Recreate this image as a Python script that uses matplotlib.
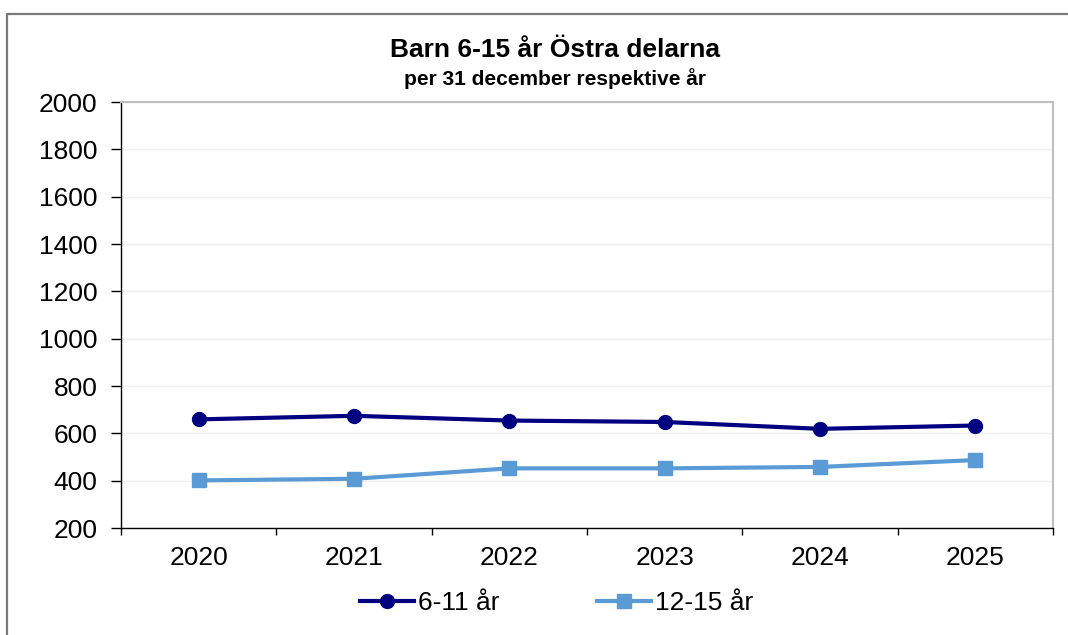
import numpy as np
import matplotlib.pyplot as plt
from matplotlib.lines import Line2D

plt.rcParams['font.family'] = ['Liberation Sans', 'DejaVu Sans']

years = ['2020', '2021', '2022', '2023', '2024', '2025']
barn_6_11 = [659, 674, 654, 648, 619, 633]
barn_12_15 = [401, 408, 452, 452, 458, 487]
yticks = np.arange(200, 2001, 200)

W, H = 1068, 635
fig = plt.figure(figsize=(W/100, H/100), dpi=100)
# outer frame (only top and left are visible in the reference)
fig.add_artist(Line2D([7/W, 7/W, 1.0], [0, 1 - 14/H, 1 - 14/H], transform=fig.transFigure,
                      color='#7a7a7a', linewidth=1.6))

ax = fig.add_axes([121/W, 1 - 528/H, (1053-121)/W, (528-102)/H])
x = np.arange(len(years)) + 0.5
ax.plot(x, barn_6_11, color='#000080', linewidth=3, marker='o', markersize=10, label='6-11 år')
ax.plot(x, barn_12_15, color='#5b9bd5', linewidth=3, marker='s', markersize=9.5, label='12-15 år')

ax.set_xlim(0, len(years))
ax.set_ylim(200, 2000)
ax.set_yticks(yticks)
ax.set_yticklabels([str(v) for v in yticks], fontsize=19)
ax.set_xticks(np.arange(len(years) + 1))
ax.set_xticklabels([])
ax.set_xticks(x, minor=True)
ax.set_xticklabels(years, minor=True, fontsize=19)
ax.tick_params(axis='x', which='major', length=5, direction='out', width=1)
ax.tick_params(axis='x', which='minor', length=0, pad=13)
ax.tick_params(axis='y', length=7, direction='out', width=1, pad=10)
ax.grid(axis='y', color='#efefef', linewidth=1)
ax.set_axisbelow(True)
for s in ['top', 'right']:
    ax.spines[s].set_color('#bfbfbf')
    ax.spines[s].set_linewidth(1.5)
for s in ['left', 'bottom']:
    ax.spines[s].set_color('black')
    ax.spines[s].set_linewidth(1)

fig.text(0.52, 1 - 50/H, 'Barn 6-15 år Östra delarna', ha='center', va='center',
         fontsize=19, fontweight='bold')
fig.text(0.52, 1 - 79/H, 'per 31 december respektive år', ha='center', va='center',
         fontsize=15, fontweight='bold')

handles = [Line2D([], [], color='#000080', linewidth=3, marker='o', markersize=10),
           Line2D([], [], color='#5b9bd5', linewidth=3, marker='s', markersize=9.5)]
fig.legend(handles, ['6-11 år', '12-15 år'], loc='center', bbox_to_anchor=(0.521, 1 - 603/H),
           ncol=2, frameon=False, fontsize=19, handlelength=2.05, handletextpad=0.15,
           columnspacing=3.7, borderpad=0)

fig.savefig('out.png', dpi=100)
